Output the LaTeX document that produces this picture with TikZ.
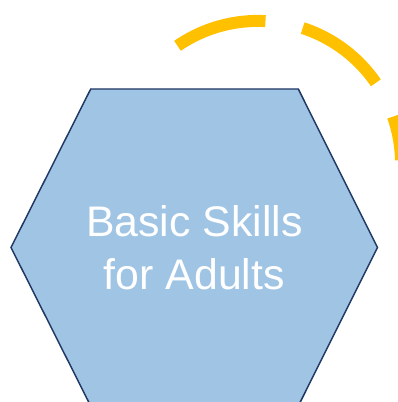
\documentclass[tikz,border=0pt]{standalone}
\usepackage{fontspec}
\setmainfont{Liberation Sans}
\usepackage{tikz}
\usetikzlibrary{calc}

\definecolor{hexfill}{HTML}{A0C4E4}
\definecolor{hexedge}{HTML}{1F3864}
\definecolor{ringgold}{HTML}{FFC000}

\begin{document}
\begin{tikzpicture}[x=0.75pt, y=-0.75pt]
	% Fixing the picture size and cutting what runs off it
	\useasboundingbox (0,0) rectangle (398,402);
	\clip (0,0) rectangle (398,402);
	
	% Corners of the hexagon
	\coordinate (W) at (11,247.5);
	\coordinate (NW) at (90.7,89);
	\coordinate (NE) at (298.3,89);
	\coordinate (E) at (377.5,247.5);
	\coordinate (SE) at (298.3,406);
	\coordinate (SW) at (90.7,406);
	
	% Drawing the hexagon
	\draw[hexedge, fill=hexfill, line width=1.1pt] (W) -- (NW) -- (NE) -- (E) -- (SE) -- (SW) -- cycle;
	
	% Label in the middle of the hexagon
	\node[text=white, align=center, font=\fontsize{32.1pt}{39.75pt}\selectfont] (skills) at (194.3,247.5) {Basic Skills\\for Adults};
	
	% Drawing the dashed ring around it
	\draw[ringgold, line width=9pt, dash pattern=on 69.75pt off 28.5pt] (177.5,45.8) arc[start angle=-124.3, end angle=-1.5, radius=143];
\end{tikzpicture}
\end{document}
